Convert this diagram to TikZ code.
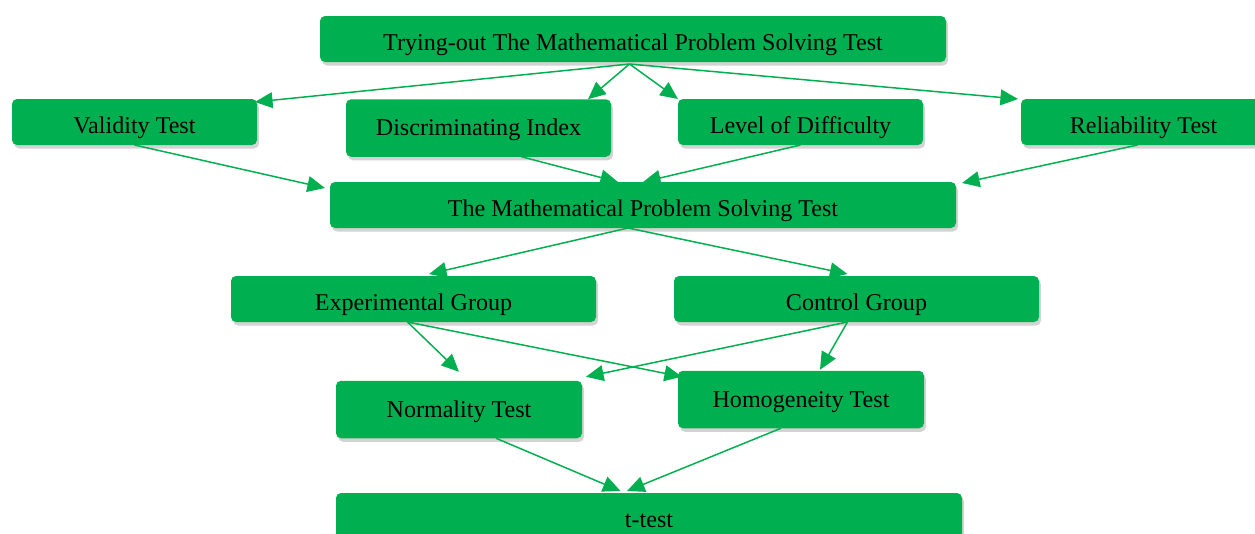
\documentclass[tikz,border=0pt]{standalone}
\usepackage{fontspec}
\setmainfont{Liberation Serif}
\usetikzlibrary{arrows.meta,shadows}
\definecolor{boxgreen}{HTML}{00B050}

\begin{document}
\begin{tikzpicture}[
  stage/.style={fill=boxgreen, rounded corners=0.1cm, inner sep=0pt, outer sep=0pt,
    minimum height=0.92cm, text height=13pt, text depth=0pt,
    font=\fontsize{13.7}{16}\selectfont,
    drop shadow={opacity=0.35, shadow xshift=0.04cm, shadow yshift=-0.07cm}},
  tallstage/.style={stage, minimum height=1.15cm, text height=10pt, text depth=1pt},
  link/.style={draw=boxgreen, line width=0.85pt, -{Triangle[length=10pt,width=9pt]}}]
  \useasboundingbox (0,0) rectangle (25.1,-10.68);

  \node[stage, minimum width=12.52cm] (trial) at (12.66,-0.78) {Trying-out The Mathematical Problem Solving Test};
  \node[stage, minimum width=4.9cm] (validity) at (2.69,-2.44) {Validity Test};
  \node[tallstage, minimum width=5.3cm] (index) at (9.57,-2.56) {Discriminating Index};
  \node[stage, minimum width=4.9cm] (difficulty) at (16.01,-2.44) {Level of Difficulty};
  \node[stage, minimum width=4.9cm] (reliability) at (22.87,-2.44) {Reliability Test};
  \node[stage, minimum width=12.52cm] (mpst) at (12.86,-4.10) {The Mathematical Problem Solving Test};
  \node[stage, minimum width=7.3cm] (exper) at (8.27,-5.98) {Experimental Group};
  \node[stage, minimum width=7.3cm] (control) at (17.13,-5.98) {Control Group};
  \node[tallstage, minimum width=4.92cm] (normality) at (9.18,-8.19) {Normality Test};
  \node[tallstage, minimum width=4.92cm] (homogeneity) at (16.02,-7.99) {Homogeneity Test};
  \node[stage, minimum width=12.52cm] (ttest) at (12.98,-10.32) {t-test};

  \coordinate (fan) at ([shift={(-0.07,-0.04)}]trial.south);
  \draw[link] (fan) -- ([shift={(-0.04,-0.06)}]validity.north east);
  \draw[link] (fan) -- ([xshift=-0.46cm]index.north east);
  \draw[link] (fan) -- (difficulty.north west);
  \draw[link] (fan) -- ([xshift=-0.06cm]reliability.north west);

  \draw[link] (validity.south) -- ([shift={(-0.1,-0.12)}]mpst.north west);
  \draw[link] ([xshift=0.86cm]index.south) -- ([xshift=-0.5cm]mpst.north);
  \draw[link] (difficulty.south) -- (mpst.north);
  \draw[link] ([xshift=-0.12cm]reliability.south) -- ([shift={(0.12,-0.02)}]mpst.north east);

  \coordinate (split) at ([xshift=-0.3cm]mpst.south);
  \draw[link] (split) -- ([shift={(0.31,0.04)}]exper.north);
  \draw[link] (split) -- ([shift={(-0.18,0.04)}]control.north);

  \coordinate (expout) at ([xshift=-0.12cm]exper.south);
  \draw[link] (expout) -- ([yshift=0.18cm]normality.north);
  \draw[link] (expout) -- ([shift={(0.08,-0.12)}]homogeneity.north west);
  \coordinate (ctrlout) at ([xshift=-0.18cm]control.south);
  \draw[link] (ctrlout) -- ([shift={(0.08,0.08)}]normality.north east);
  \draw[link] (ctrlout) -- ([shift={(0.38,0.02)}]homogeneity.north);

  \draw[link] ([xshift=0.74cm]normality.south) -- ([shift={(-0.57,0.04)}]ttest.north);
  \draw[link] ([xshift=-0.4cm]homogeneity.south) -- ([shift={(-0.44,0.04)}]ttest.north);
\end{tikzpicture}
\end{document}
